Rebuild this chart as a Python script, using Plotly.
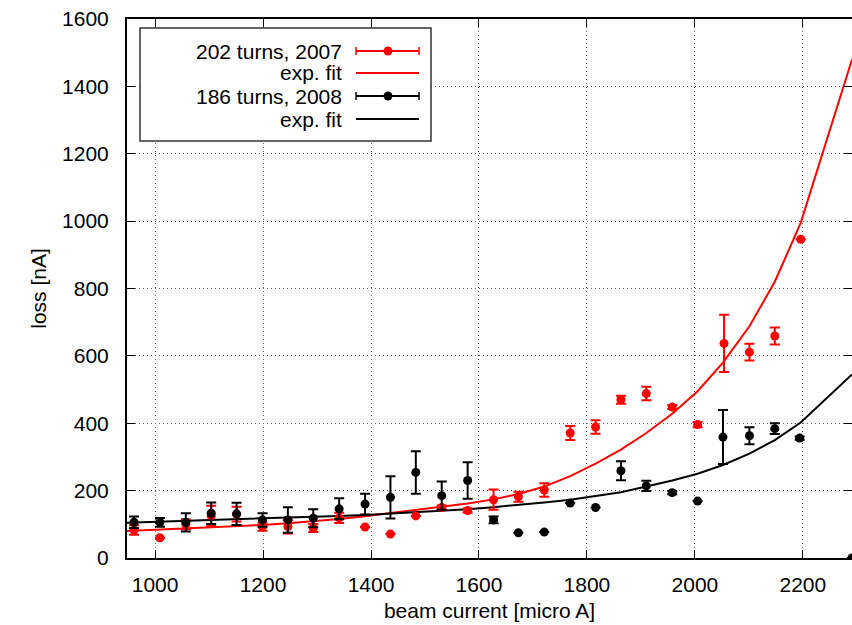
import plotly.graph_objects as go

# ---------------- data ----------------
x_2007 = [961, 1009, 1057, 1104, 1151, 1199, 1246, 1293, 1341, 1389, 1436, 1483, 1531,
          1579, 1627, 1673, 1721, 1769, 1816, 1863, 1910, 1958, 2005, 2054, 2101, 2148, 2196]
y_2007 = [83, 60, 100, 125, 130, 93, 93, 89, 119, 92, 71, 125, 150,
          141, 173, 182, 202, 371, 389, 470, 488, 448, 396, 637, 611, 659, 946]
e_2007 = [14, 0, 15, 30, 22, 12, 20, 12, 15, 0, 0, 0, 6,
          6, 30, 15, 20, 21, 20, 12, 20, 6, 8, 85, 25, 25, 0]

x_2008 = [961, 1009, 1057, 1104, 1151, 1199, 1246, 1293, 1341, 1389, 1436, 1483, 1531,
          1579, 1627, 1673, 1721, 1769, 1816, 1863, 1910, 1958, 2005, 2052, 2101, 2148, 2194, 2291]
y_2008 = [106, 106, 106, 133, 131, 113, 113, 118, 146, 160, 180, 254, 185,
          230, 113, 75, 77, 163, 150, 259, 214, 194, 169, 359, 363, 384, 356, 0]
e_2008 = [17, 13, 27, 32, 33, 20, 38, 27, 31, 31, 63, 63, 42,
          54, 10, 0, 0, 0, 0, 28, 15, 5, 0, 80, 25, 16, 5, 0]

fit_x = [948, 1009, 1057, 1104, 1151, 1199, 1246, 1293, 1341, 1389, 1436, 1483, 1531,
         1579, 1627, 1673, 1721, 1769, 1816, 1863, 1910, 1958, 2005, 2052, 2101, 2148, 2196, 2291]
fit_2007 = [80, 84, 87, 90, 94, 98, 103, 109, 116, 124, 133, 143, 153,
            162, 174, 190, 212, 243, 280, 322, 371, 428, 495, 580, 688, 820, 995, 1480]
fit_2008 = [105, 108, 110, 112, 114, 117, 119, 122, 125, 128, 132, 136, 141,
            145, 151, 157, 165, 173, 183, 195, 212, 230, 250, 276, 310, 350, 402, 545]

legend_labels = ["202 turns, 2007", "exp. fit", "186 turns, 2008", "exp. fit"]
legend_colors = ["#ff0000", "#ff0000", "#000000", "#000000"]

x_range = [948, 2291]
y_range = [0, 1600]
x_ticks = [1000, 1200, 1400, 1600, 1800, 2000, 2200]
y_ticks = [0, 200, 400, 600, 800, 1000, 1200, 1400, 1600]

# ---------------- figure ----------------
W, H = 852, 625
ML, MR, MT, MB = 127, 0, 19, 67
PW, PH = W - ML - MR, H - MT - MB
FONT = "Liberation Sans, Arial, sans-serif"

fig = go.Figure()

fig.add_trace(go.Scatter(x=fit_x, y=fit_2007, mode="lines",
                         line=dict(color="#ff0000", width=2), showlegend=False))
fig.add_trace(go.Scatter(x=fit_x, y=fit_2008, mode="lines",
                         line=dict(color="#000000", width=2), showlegend=False))
fig.add_trace(go.Scatter(x=x_2007, y=y_2007, mode="markers",
                         marker=dict(color="#ff0000", size=9),
                         error_y=dict(type="data", array=e_2007, color="#ff0000",
                                      thickness=2, width=5),
                         showlegend=False))
fig.add_trace(go.Scatter(x=x_2008, y=y_2008, mode="markers",
                         marker=dict(color="#000000", size=9),
                         error_y=dict(type="data", array=e_2008, color="#000000",
                                      thickness=2, width=5),
                         showlegend=False))

axis_common = dict(showline=True, linecolor="black", linewidth=2, mirror="allticks",
                   ticks="inside", ticklen=8, tickwidth=1, tickcolor="black",
                   showgrid=True, gridcolor="#666666", griddash="1px,3px", gridwidth=1,
                   zeroline=False, automargin=False,
                   tickfont=dict(family=FONT, size=21, color="black"))

fig.update_xaxes(range=x_range, tickvals=x_ticks, ticklabelstandoff=7,
                 title=dict(text="beam current [micro A]", standoff=8,
                            font=dict(family=FONT, size=21, color="black")),
                 **axis_common)
fig.update_yaxes(range=y_range, tickvals=y_ticks, ticklabelstandoff=12,
                 title=dict(text="loss [nA]", standoff=10,
                            font=dict(family=FONT, size=21, color="black")),
                 **axis_common)

# ---------------- manual legend (gnuplot style: text right-aligned, sample on the right) ----------------
def px(xp):
    return (xp - ML) / PW

def py(yp):
    return (H - MB - yp) / PH

shapes = []
annotations = []
shapes.append(dict(type="rect", xref="paper", yref="paper",
                   x0=px(140), x1=px(431), y0=py(141), y1=py(28),
                   line=dict(color="#333333", width=1.5), fillcolor="white", layer="above"))
rows_y = [51, 73, 96, 119]
for i, (lab, col) in enumerate(zip(legend_labels, legend_colors)):
    yy = rows_y[i]
    annotations.append(dict(xref="paper", yref="paper", x=px(344), y=py(yy),
                            text=lab, showarrow=False, xanchor="right", yanchor="middle",
                            font=dict(family=FONT, size=21, color="black")))
    shapes.append(dict(type="line", xref="paper", yref="paper",
                       x0=px(356), x1=px(419), y0=py(yy), y1=py(yy),
                       line=dict(color=col, width=2), layer="above"))
    if i in (0, 2):
        for cx in (356, 419):
            shapes.append(dict(type="line", xref="paper", yref="paper",
                               x0=px(cx), x1=px(cx), y0=py(yy - 4), y1=py(yy + 4),
                               line=dict(color=col, width=1.5), layer="above"))
        shapes.append(dict(type="circle", xref="paper", yref="paper",
                           x0=px(383.5), x1=px(392.5), y0=py(yy + 4.5), y1=py(yy - 4.5),
                           line=dict(color=col, width=0), fillcolor=col, layer="above"))

fig.update_layout(width=W, height=H,
                  margin=dict(l=ML, r=MR, t=MT, b=MB, pad=0, autoexpand=False),
                  paper_bgcolor="white", plot_bgcolor="white",
                  showlegend=False, shapes=shapes, annotations=annotations,
                  font=dict(family=FONT, size=21, color="black"))

fig.write_html("out.html", config={"displayModeBar": False},
               post_script="document.body.style.margin='0px';document.body.style.overflow='hidden';")
